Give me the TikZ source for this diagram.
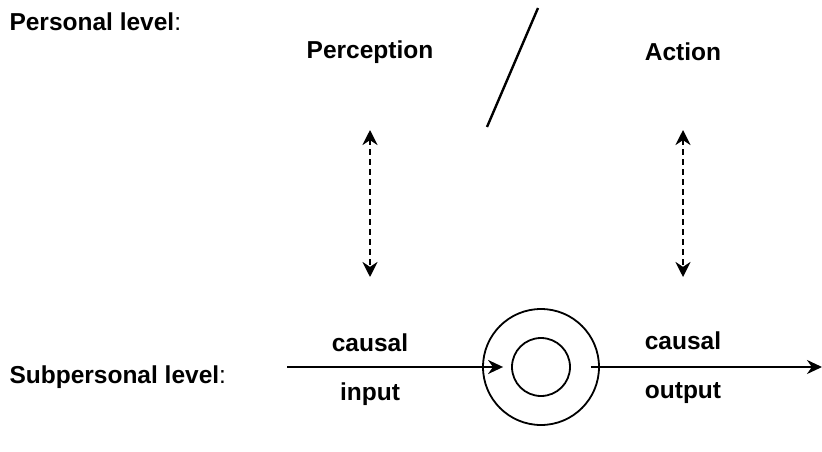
\documentclass[tikz,border=0pt]{standalone}
\usepackage{fontspec}
\setmainfont{Liberation Sans}
\usetikzlibrary{arrows.meta,positioning}

\begin{document}
\begin{tikzpicture}[x=1pt,y=-1pt,
every node/.style={font=\bfseries\fontsize{24.5}{29}\selectfont},
arr/.style={-{Stealth[length=15pt,width=14pt]},line width=2.4pt},
dasharr/.style={{Stealth[length=15pt,width=15pt]}-{Stealth[length=15pt,width=15pt]},line width=2.4pt,dash pattern=on 6pt off 4pt}]
\useasboundingbox (0,0) rectangle (822,452);
% levels
\node[anchor=west] (PL) at (6,22) {Personal level\textmd{:}};
\node[anchor=west] (SL) at (6,377) {Subpersonal level\textmd{:}};
\node (Perc) at (370,52) {Perception};
\node (Act) at (683,52) {Action};
\coordinate (s1) at (538,8);
\coordinate (s2) at (487,127);
\draw[line width=2.4pt] (s1)--(s2);
% links between levels
\coordinate (pt) at (370,130);
\coordinate (pb) at (370,277);
\coordinate (at) at (683,130);
\coordinate (ab) at (683,277);
\draw[dasharr] (pt)--(pb);
\draw[dasharr] (at)--(ab);
% the system
\node[circle,draw,line width=1.8pt,minimum size=116pt,inner sep=0pt] (outer) at (541,367) {};
\node[circle,draw,line width=1.8pt,minimum size=58pt,inner sep=0pt] (inner) at (541,367) {};
\coordinate (in) at (287,367);
\coordinate (out) at (822,367);
\draw[arr] (in)--([xshift=-8pt]inner.west);
\draw[arr] ([xshift=-9pt]outer.east)--(out);
\node (c1) at (370,343) {causal};
\node (i1) at (370,394) {input};
\node (c2) at (683,341) {causal};
\node (o2) at (683,393) {output};
\end{tikzpicture}
\end{document}
